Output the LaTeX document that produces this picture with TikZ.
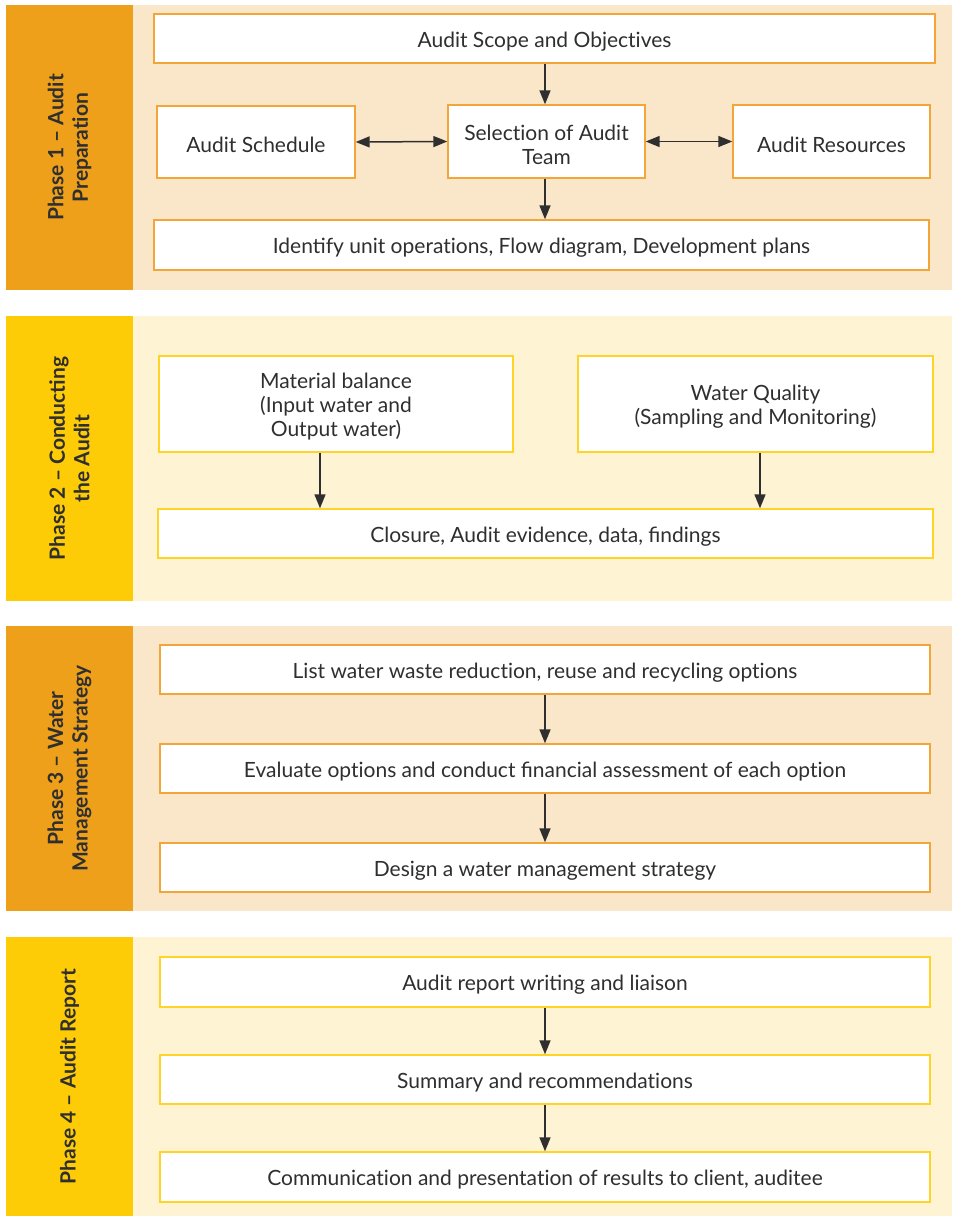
\documentclass[tikz,border=0pt]{standalone}
\usepackage{fontspec}
\setmainfont{Lato}
\usetikzlibrary{arrows.meta,calc}

% plain "t" followed by "i", kept apart so the two letters are not joined
\newcommand\tI{t\kern0pt i}

\definecolor{phaseorange}{HTML}{EFA01B}
\definecolor{phaseyellow}{HTML}{FECC07}
\definecolor{bgorange}{HTML}{FAE6C9}
\definecolor{bgyellow}{HTML}{FEF3D2}
\definecolor{edgeorange}{HTML}{F2A63A}
\definecolor{edgeyellow}{HTML}{FFD426}
\definecolor{txt}{HTML}{2F2F2F}

\tikzset{
  btext/.style={text=txt, align=center, inner sep=0pt, yshift=-3pt,
    font=\fontsize{21}{24}\selectfont},
  box/.style={draw, fill=white, line width=1.4pt, inner sep=0pt,
    label={[btext]center:#1}},
  obox/.style={box={#1}, draw=edgeorange},
  ybox/.style={box={#1}, draw=edgeyellow},
  phaselabel/.style={rotate=90, align=center, text=txt,
    font=\fontsize{21}{24.5}\selectfont\bfseries},
  arr/.style={-{Triangle[length=14pt,width=11pt]}, line width=1.5pt, draw=txt},
  dblarr/.style={{Triangle[length=14pt,width=11pt]}-{Triangle[length=14pt,width=11pt]}, line width=1.5pt, draw=txt}
}

\begin{document}
\begin{tikzpicture}[x=1pt,y=-1pt]
\useasboundingbox (0,0) rectangle (953,1216);

% ---- Phase 1: Audit Preparation ----
\fill[bgorange] (6,5) rectangle (952,290);
\fill[phaseorange] (6,5) rectangle (133,290);
\node[phaselabel] (p1) at (69.5,147.5) {Phase 1 – Audit\\Prepara\tI on};

\node[obox={Audit Scope and Objec\tI ves}, minimum width=781pt, minimum height=49pt] (scope) at (544.5,38.5) {};
\node[obox={Audit Schedule}, minimum width=198pt, minimum height=72pt] (sched) at (256,142) {};
\node[obox={Selec\tI on of Audit\\Team}, minimum width=197pt, minimum height=73pt] (team) at (546.5,141.5) {};
\node[obox={Audit Resources}, minimum width=197pt, minimum height=73pt] (res) at (831.5,141.5) {};
\node[obox={Identify unit opera\tI ons, Flow diagram, Development plans}, minimum width=775pt, minimum height=50pt] (ident) at (541.5,245) {};

\draw[arr] ([xshift=-1.5pt]team.north |- scope.south) -- ([xshift=-1.5pt]team.north);
\draw[arr] ([xshift=-1.5pt]team.south) -- ([xshift=-1.5pt]team.south |- ident.north);
\draw[dblarr] (sched.east) -- (team.west);
\draw[dblarr] (team.east) -- (res.west);

% ---- Phase 2: Conducting the Audit ----
\fill[bgyellow] (6,316) rectangle (952,601);
\fill[phaseyellow] (6,316) rectangle (133,601);
\node[phaselabel] (p2) at (69.5,458.5) {Phase 2 – Conducting\\the Audit};

\node[ybox={Material balance\\(Input water and\\Output water)}, minimum width=354pt, minimum height=96pt] (mat) at (336,404) {};
\node[ybox={Water Quality\\(Sampling and Monitoring)}, minimum width=355pt, minimum height=96pt] (wq) at (755.5,404) {};
\node[ybox={Closure, Audit evidence, data, findings}, minimum width=775pt, minimum height=49pt] (clos) at (545.5,533.5) {};

\draw[arr] ([xshift=-16pt]mat.south) -- ([xshift=-16pt]mat.south |- clos.north);
\draw[arr] ([xshift=4.5pt]wq.south) -- ([xshift=4.5pt]wq.south |- clos.north);

% ---- Phase 3: Water Management Strategy ----
\fill[bgorange] (6,626) rectangle (952,911);
\fill[phaseorange] (6,626) rectangle (133,911);
\node[phaselabel] (p3) at (69.5,768.5) {Phase 3 – Water\\Management Strategy};

\node[obox={List water waste reduc\tI on, reuse and recycling op\tI ons}, minimum width=770pt, minimum height=49pt] (list) at (545,669.5) {};
\node[obox={Evaluate op\tI ons and conduct financial assessment of each op\tI on}, minimum width=770pt, minimum height=49pt] (eval) at (545,768.5) {};
\node[obox={Design a water management strategy}, minimum width=770pt, minimum height=49pt] (design) at (545,867.5) {};

\draw[arr] (list.south) -- (eval.north);
\draw[arr] (eval.south) -- (design.north);

% ---- Phase 4: Audit Report ----
\fill[bgyellow] (6,937) rectangle (952,1216);
\fill[phaseyellow] (6,937) rectangle (133,1216);
\node[phaselabel] (p4) at (69.5,1076.5) {Phase 4 – Audit Report};

\node[ybox={Audit report writing and liaison}, minimum width=770pt, minimum height=50pt] (rep) at (545,982) {};
\node[ybox={Summary and recommenda\tI ons}, minimum width=770pt, minimum height=49pt] (summ) at (545,1079.5) {};
\node[ybox={Communica\tI on and presenta\tI on of results to client, auditee}, minimum width=770pt, minimum height=50pt] (comm) at (545,1177) {};

\draw[arr] (rep.south) -- (summ.north);
\draw[arr] (summ.south) -- (comm.north);
\end{tikzpicture}
\end{document}
